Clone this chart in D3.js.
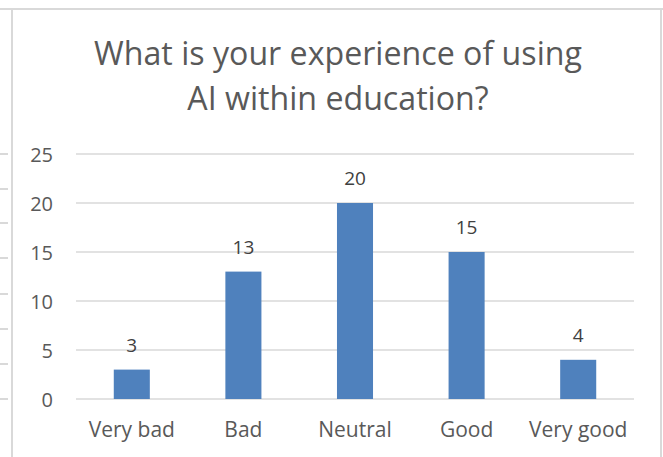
<!DOCTYPE html>
<html>
<head>
<meta charset="utf-8">
<script src="https://cdn.jsdelivr.net/npm/d3@7"></script>
<style>
  body { margin: 0; background: #fff; }
  svg { display: block; font-family: "Open Sans", sans-serif; }
</style>
</head>
<body>
<svg width="663" height="457"></svg>
<script>
const titleLines = ['What is your experience of using', 'AI within education?'];
const categories = ['Very bad', 'Bad', 'Neutral', 'Good', 'Very good'];
const counts = [3, 13, 20, 15, 4];
const yTicks = [0, 5, 10, 15, 20, 25];

const svg = d3.select('svg');

// worksheet frame behind the chart
const frame = svg.append('g')
  .attr('stroke', '#d9d9d9')
  .attr('stroke-width', 2);

frame.append('line').attr('x1', 0).attr('x2', 663).attr('y1', 9).attr('y2', 9);
frame.append('line').attr('x1', 12).attr('x2', 12).attr('y1', 9).attr('y2', 457);
frame.append('line').attr('x1', 661).attr('x2', 661).attr('y1', 9).attr('y2', 457);

[154, 189, 223, 258, 294, 329, 364, 399].forEach((y) => {
  frame.append('line').attr('x1', 0).attr('x2', 8).attr('y1', y).attr('y2', y);
});

const x = d3.scaleBand()
  .domain(categories)
  .range([76, 634])
  .paddingInner(0.677)
  .paddingOuter(0.3385);

const y = d3.scaleLinear()
  .domain([0, 25])
  .range([399, 154]);

// gridlines
svg.append('g')
  .selectAll('line')
  .data(yTicks)
  .join('line')
    .attr('x1', 76)
    .attr('x2', 634)
    .attr('y1', (d) => y(d))
    .attr('y2', (d) => y(d))
    .attr('stroke', '#d9d9d9')
    .attr('stroke-width', 1.5);

const yAxis = svg.append('g')
  .attr('transform', 'translate(60,0)')
  .call(d3.axisLeft(y).tickValues(yTicks).tickSize(0).tickPadding(0));

yAxis.select('.domain').remove();
yAxis.selectAll('text')
  .attr('x', -7)
  .attr('dy', '0.35em')
  .attr('fill', '#595959')
  .style('font-size', '20px')
  .style('font-family', '"Open Sans", sans-serif');

const xAxis = svg.append('g')
  .attr('transform', 'translate(0,399)')
  .call(d3.axisBottom(x).tickSize(0).tickPadding(0));

xAxis.select('.domain').remove();
xAxis.selectAll('text')
  .attr('y', 38)
  .attr('dy', 0)
  .attr('fill', '#595959')
  .style('font-size', '21px')
  .style('font-family', '"Open Sans", sans-serif');

svg.append('g')
  .selectAll('rect')
  .data(counts)
  .join('rect')
    .attr('x', (d, i) => x(categories[i]))
    .attr('y', (d) => y(d))
    .attr('width', x.bandwidth())
    .attr('height', (d) => y(0) - y(d))
    .attr('fill', '#4f81bd');

svg.append('g')
  .selectAll('text')
  .data(counts)
  .join('text')
    .attr('x', (d, i) => x(categories[i]) + x.bandwidth() / 2)
    .attr('y', (d) => y(d) - 18)
    .attr('text-anchor', 'middle')
    .attr('fill', '#404040')
    .style('font-size', '19px')
    .text((d) => d);

// title, sized so the first line spans the same width as in the original
const title = svg.append('g')
  .attr('fill', '#595959')
  .attr('text-anchor', 'middle');

const titleText = title.selectAll('text')
  .data(titleLines)
  .join('text')
    .attr('x', 338)
    .attr('y', (d, i) => 65 + i * 45)
    .style('font-size', '30px')
    .text((d) => d);

const firstWidth = titleText.node().getComputedTextLength();
titleText.style('font-size', (30 * 488 / firstWidth) + 'px');
</script>
</body>
</html>
